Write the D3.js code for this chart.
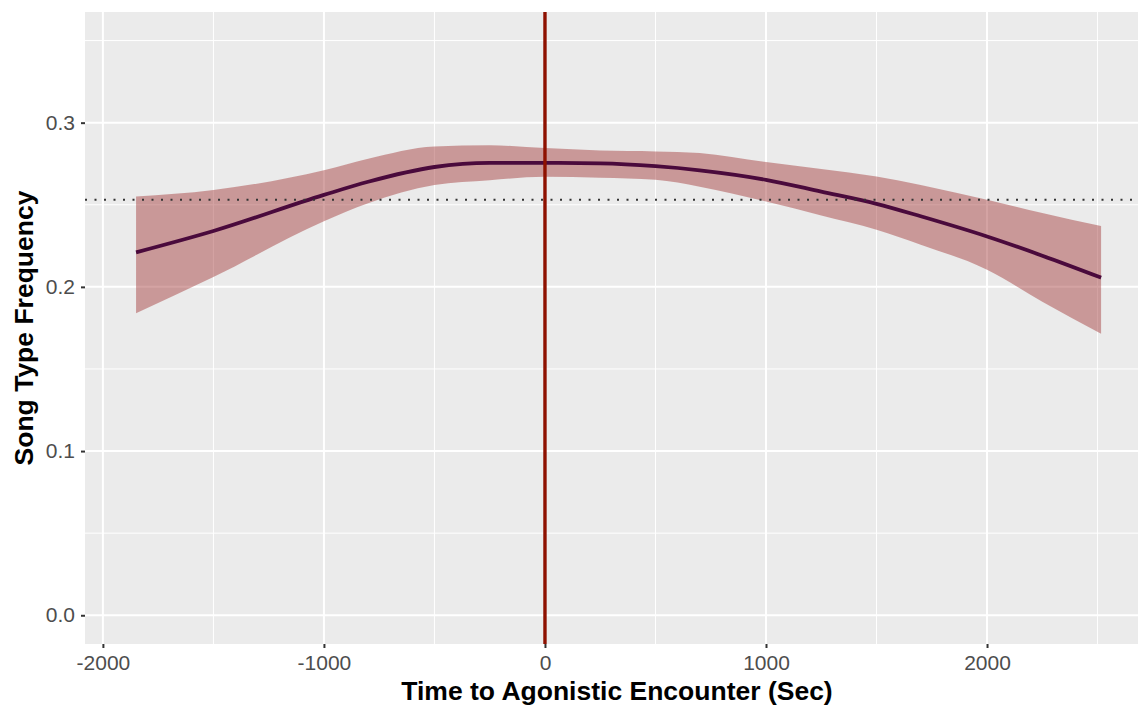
<!DOCTYPE html>
<html>
<head>
<meta charset="utf-8">
<script src="https://cdn.jsdelivr.net/npm/d3@7"></script>
<style>
  html, body { margin: 0; padding: 0; background: #fff; }
  svg { display: block; }
</style>
</head>
<body>
<svg id="chart" width="1138" height="707"></svg>
<script>
// Smoothed fit of song type frequency around the agonistic encounter
const timeSec   = [-1850, -1500, -1000, -800, -500, -250, 0, 250, 500, 700, 1000, 1250, 1500, 1700, 2000, 2250, 2516];
const fitValue  = [0.221, 0.234, 0.256, 0.264, 0.273, 0.2755, 0.2755, 0.2752, 0.2735, 0.271, 0.2652, 0.258, 0.2506, 0.243, 0.2307, 0.219, 0.2056];
const upperBand = [0.255, 0.259, 0.271, 0.278, 0.2855, 0.2862, 0.2845, 0.283, 0.2825, 0.2815, 0.276, 0.2718, 0.2672, 0.262, 0.253, 0.245, 0.237];
const lowerBand = [0.184, 0.206, 0.240, 0.251, 0.262, 0.265, 0.267, 0.2665, 0.2652, 0.261, 0.252, 0.2435, 0.2348, 0.2257, 0.2105, 0.191, 0.1715];
const baselineFreq = 0.253;
const encounterTime = 0;

const xMajorTicks = [-2000, -1000, 0, 1000, 2000];
const xMinorTicks = [-1500, -500, 500, 1500, 2500];
const yMajorTicks = [0.0, 0.1, 0.2, 0.3];
const yMinorTicks = [0.05, 0.15, 0.25, 0.35];

const rows = timeSec.map((t, i) => ({ t, fit: fitValue[i], hi: upperBand[i], lo: lowerBand[i] }));

const svg = d3.select("#chart");
const panel = { left: 85, top: 12, right: 1138, bottom: 644 };
const fontStack = "'Liberation Sans', Arial, Helvetica, sans-serif";

const x = d3.scaleLinear().domain([-2081, 2683]).range([panel.left, panel.right]);
const y = d3.scaleLinear().domain([-0.0175, 0.3674]).range([panel.bottom, panel.top]);

// panel background
svg.append("rect")
  .attr("x", panel.left).attr("y", panel.top)
  .attr("width", panel.right - panel.left).attr("height", panel.bottom - panel.top)
  .attr("fill", "#EBEBEB");

const grid = svg.append("g");
grid.selectAll(".xminor").data(xMinorTicks).join("line")
  .attr("x1", d => x(d)).attr("x2", d => x(d))
  .attr("y1", panel.top).attr("y2", panel.bottom)
  .attr("stroke", "#fff").attr("stroke-width", 1);
grid.selectAll(".yminor").data(yMinorTicks).join("line")
  .attr("y1", d => y(d)).attr("y2", d => y(d))
  .attr("x1", panel.left).attr("x2", panel.right)
  .attr("stroke", "#fff").attr("stroke-width", 1);
grid.selectAll(".xmajor").data(xMajorTicks).join("line")
  .attr("x1", d => x(d)).attr("x2", d => x(d))
  .attr("y1", panel.top).attr("y2", panel.bottom)
  .attr("stroke", "#fff").attr("stroke-width", 2);
grid.selectAll(".ymajor").data(yMajorTicks).join("line")
  .attr("y1", d => y(d)).attr("y2", d => y(d))
  .attr("x1", panel.left).attr("x2", panel.right)
  .attr("stroke", "#fff").attr("stroke-width", 2);

// confidence band
const band = d3.area()
  .x(d => x(d.t)).y0(d => y(d.lo)).y1(d => y(d.hi))
  .curve(d3.curveMonotoneX);
svg.append("path").datum(rows)
  .attr("d", band)
  .attr("fill", "#A33B3B").attr("fill-opacity", 0.47);

// fitted line
const fitLine = d3.line().x(d => x(d.t)).y(d => y(d.fit)).curve(d3.curveMonotoneX);
svg.append("path").datum(rows)
  .attr("d", fitLine)
  .attr("fill", "none").attr("stroke", "#4A0A3C").attr("stroke-width", 3.8)
  .attr("stroke-linecap", "butt");

// overall mean reference
svg.append("line")
  .attr("x1", panel.left).attr("x2", panel.right)
  .attr("y1", y(baselineFreq)).attr("y2", y(baselineFreq))
  .attr("stroke", "#333").attr("stroke-width", 2)
  .attr("stroke-dasharray", "2,7.5");

// encounter marker
svg.append("line")
  .attr("x1", x(encounterTime)).attr("x2", x(encounterTime))
  .attr("y1", panel.top).attr("y2", panel.bottom)
  .attr("stroke", "#8E1100").attr("stroke-width", 3.4);

// axes
const xAxis = svg.append("g")
  .attr("transform", `translate(0,${panel.bottom})`)
  .call(d3.axisBottom(x).tickValues(xMajorTicks).tickSize(4).tickPadding(7).tickFormat(d => String(d)));
const yAxis = svg.append("g")
  .attr("transform", `translate(${panel.left},0)`)
  .call(d3.axisLeft(y).tickValues(yMajorTicks).tickSize(4).tickPadding(6).tickFormat(d => d.toFixed(1)));

[xAxis, yAxis].forEach(g => {
  g.select(".domain").remove();
  g.selectAll(".tick line").attr("stroke", "#333").attr("stroke-width", 2);
  g.selectAll(".tick text")
    .attr("fill", "#4D4D4D")
    .style("font-family", fontStack)
    .style("font-size", "21px");
});
xAxis.selectAll(".tick text").attr("dy", "0.71em");

// axis titles
svg.append("text")
  .attr("x", 617).attr("y", 700)
  .attr("text-anchor", "middle")
  .style("font-family", fontStack)
  .style("font-size", "26.5px").style("font-weight", "bold")
  .attr("fill", "#000")
  .text("Time to Agonistic Encounter (Sec)");

svg.append("text")
  .attr("transform", `translate(33,${(panel.top + panel.bottom) / 2}) rotate(-90)`)
  .attr("text-anchor", "middle")
  .style("font-family", fontStack)
  .style("font-size", "26.5px").style("font-weight", "bold")
  .attr("fill", "#000")
  .text("Song Type Frequency");
</script>
</body>
</html>
